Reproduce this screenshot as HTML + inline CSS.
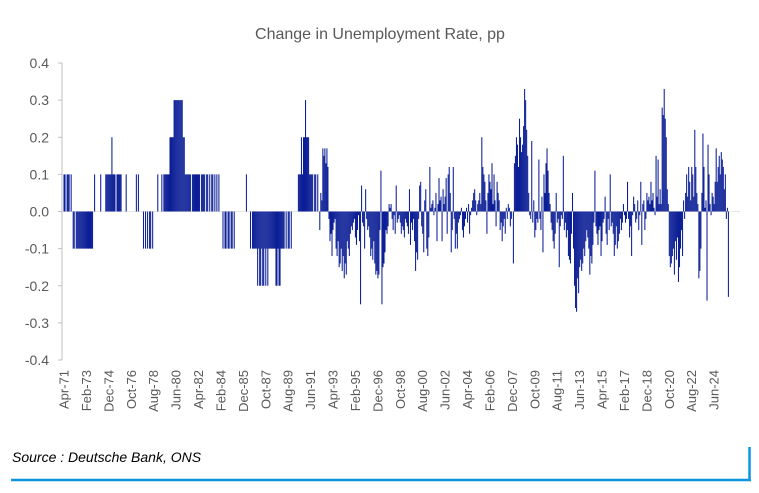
<!DOCTYPE html>
<html><head><meta charset="utf-8"><style>
body{margin:0;background:#fff;width:759px;height:488px;overflow:hidden;font-family:"Liberation Sans",sans-serif}
</style></head><body>
<svg width="759" height="488" viewBox="0 0 759 488" xmlns="http://www.w3.org/2000/svg">
<text x="380" y="39" text-anchor="middle" font-size="16" fill="#595959" font-family="Liberation Sans, sans-serif">Change in Unemployment Rate, pp</text>
<g id="yaxis"></g>
<g id="bars"></g>
<g id="xaxis"></g>
<text x="12" y="462" font-size="14" font-style="italic" fill="#000" font-family="Liberation Sans, sans-serif">Source : Deutsche Bank, ONS</text>
<line x1="11" y1="480" x2="751" y2="480" stroke="#0a96dc" stroke-width="2.5"/>
<line x1="749.5" y1="447" x2="749.5" y2="481" stroke="#0a96dc" stroke-width="2.5"/>
</svg>
<script>
const yTicks=[0.4,0.3,0.2,0.1,0.0,-0.1,-0.2,-0.3,-0.4];
const yTickLabels=["0.4","0.3","0.2","0.1","0.0","-0.1","-0.2","-0.3","-0.4"];
const xLabels=["Apr-71","Feb-73","Dec-74","Oct-76","Aug-78","Jun-80","Apr-82","Feb-84","Dec-85","Oct-87","Aug-89","Jun-91","Apr-93","Feb-95","Dec-96","Oct-98","Aug-00","Jun-02","Apr-04","Feb-06","Dec-07","Oct-09","Aug-11","Jun-13","Apr-15","Feb-17","Dec-18","Oct-20","Aug-22","Jun-24"];
const labelStep=22;
const values=[
.1,.1,0,.1,.1,.1,0,.1,0,
-.1,-.1,0,-.1,-.1,-.1,-.1,-.1,-.1,-.1,-.1,-.1,
-.1,-.1,-.1,-.1,-.1,-.1,-.1,-.1,0,.1,0,0,
0,0,0,.1,0,0,0,0,.1,.1,.1,.1,
.1,.1,.2,.1,.1,.1,0,.1,.1,.1,.1,.1,
0,0,0,0,.1,0,0,0,0,0,0,0,
0,0,.1,0,.1,0,0,0,0,-.1,0,-.1,
0,-.1,0,-.1,-.1,0,-.1,0,0,0,0,.1,
0,0,0,.1,0,.1,.1,.1,.1,.1,.1,.2,
.2,.2,.2,.3,.3,.3,.3,.3,.3,.3,.3,.3,
.2,.2,.1,.1,.1,.1,.1,.1,0,.1,.1,.1,
.1,.1,.1,.1,.1,0,.1,.1,.1,.1,0,.1,
.1,0,.1,0,.1,.1,0,.1,0,.1,0,.1,
0,0,0,-.1,0,-.1,-.1,0,-.1,-.1,0,-.1,
-.1,0,-.1,0,0,0,0,0,0,0,0,0,
0,0,.1,0,0,0,-.1,0,-.1,-.1,-.1,-.1,
-.1,-.2,-.1,-.2,-.2,-.1,-.2,-.2,-.1,-.2,-.1,-.2,
-.1,-.1,-.1,-.1,-.1,-.1,-.1,-.2,-.2,-.1,-.2,-.2,
-.1,-.1,-.1,-.1,0,-.1,0,-.1,-.1,0,-.1,0,
0,0,0,0,0,.1,.1,.1,.2,.1,.2,.2,
.3,.2,.2,.2,.1,.1,.1,.1,0,.1,.1,0,
.1,0,-.05,.05,.03,.17,.15,.17,.13,.17,.12,-.02,
-.08,-.06,-.12,-.05,-.03,-.02,-.1,-.12,-.08,-.15,-.14,-.1,
-.16,-.12,-.18,-.14,-.17,-.08,-.1,-.12,-.06,-.04,-.05,-.03,
-.02,-.07,-.09,-.05,-.01,-.08,-.25,.07,-.03,-.04,-.1,.06,
-.02,-.05,-.04,-.07,-.12,-.1,-.13,-.08,-.14,-.17,-.16,-.18,
-.17,-.05,.11,-.25,-.15,-.14,-.11,-.05,-.06,-.04,.02,.01,
.02,-.02,-.05,-.01,-.06,.07,-.03,-.02,-.01,-.03,-.06,-.04,
-.05,-.07,-.02,-.03,-.04,-.06,.06,-.09,-.03,-.05,-.02,-.08,
-.16,-.11,-.13,-.02,.07,.08,-.04,-.06,-.11,.03,.06,-.1,
-.12,-.07,.12,.01,.02,.03,-.01,.01,.05,-.08,.02,.09,
.03,.04,-.08,.06,.02,.04,.09,-.06,.1,.12,.05,-.11,
-.05,.12,-.02,-.1,-.06,-.1,-.03,-.02,-.01,.01,-.05,-.07,
-.04,-.02,.01,-.03,.02,-.06,-.01,.01,.03,.05,.06,.03,
-.01,.02,.03,.05,.02,.2,.12,.1,.08,.03,-.06,.05,
.1,.08,.06,.13,.02,.1,.03,-.04,.08,.05,.03,-.05,
-.03,-.08,-.04,-.02,-.06,.01,-.02,.02,.01,-.04,-.02,0,
-.14,.13,.15,.2,.18,.12,.25,.2,.16,.18,.23,.33,
.3,.22,.15,.05,-.01,-.02,.19,-.03,.03,-.07,-.05,-.02,
-.03,.14,-.02,-.05,.04,-.11,.1,.05,.13,.17,.11,.05,
.02,-.03,-.05,-.08,-.1,-.06,.05,-.03,-.02,-.15,-.04,-.01,
-.02,.15,-.05,-.03,-.07,-.05,-.12,-.13,-.14,-.06,.05,-.1,
-.2,-.26,-.27,-.18,-.22,-.15,-.13,-.16,-.14,-.1,-.12,-.08,
-.05,-.07,-.1,-.17,-.12,-.14,-.09,-.03,.11,-.04,-.06,-.09,
-.05,-.04,-.12,-.08,-.03,-.02,.04,-.06,-.09,-.02,-.05,.1,
-.04,-.03,-.06,-.12,-.09,-.04,-.1,-.08,-.06,-.02,-.05,-.03,
.02,-.01,-.03,-.02,.08,-.02,-.07,-.04,-.12,-.01,.04,.02,
-.03,-.02,.03,-.05,-.01,.08,-.09,.02,.03,-.05,-.02,.05,
.03,.04,.02,.08,.03,.05,.01,-.01,.15,.04,.14,.02,
.06,.02,.28,.26,.33,.25,.2,.06,.02,-.12,-.15,-.14,
-.12,-.1,-.17,-.08,-.13,-.07,-.19,-.15,-.1,-.05,-.12,.03,
-.02,.05,.1,.04,.12,.08,.03,.12,.1,.04,.22,.12,
.05,.02,-.18,-.16,-.1,.05,.21,.12,.01,.03,-.24,.18,
.1,.02,-.01,.05,.04,.02,.08,.17,.08,.12,.15,.1,
.16,.14,.12,.06,.1,-.02,.01,-.23
];
const NS="http://www.w3.org/2000/svg";
const x0=64,dx=1.019,yTop=63,yBot=360,vMax=0.4,vMin=-0.4;
function xs(i){return x0+i*dx;}
function ys(v){return yTop+(vMax-v)/(vMax-vMin)*(yBot-yTop);}
const ya=document.getElementById('yaxis');
let ln=document.createElementNS(NS,'line');


ln.setAttribute('x1',62);ln.setAttribute('x2',62);ln.setAttribute('y1',yTop);ln.setAttribute('y2',yBot);
ln.setAttribute('stroke','#bfbfbf');ya.appendChild(ln);
yTicks.forEach((v,k)=>{
 const t=document.createElementNS(NS,'line');
 
 
 t.setAttribute('x1',58);t.setAttribute('x2',62);t.setAttribute('y1',ys(v));t.setAttribute('y2',ys(v));
 t.setAttribute('stroke','#bfbfbf');ya.appendChild(t);
 const tx=document.createElementNS(NS,'text');
 
 
 tx.setAttribute('x',49);tx.setAttribute('y',ys(v)+5);tx.setAttribute('text-anchor','end');
 tx.setAttribute('font-size','14');tx.setAttribute('fill','#595959');
 tx.textContent=yTickLabels[k];ya.appendChild(tx);
});
const bg=document.getElementById('bars');
values.forEach((v,i)=>{
 if(v===0)return;
 const r=document.createElementNS(NS,'rect');
 
 
 const y=Math.min(ys(v),ys(0));
 r.setAttribute('x',xs(i)-0.5);r.setAttribute('width',1.05);
 r.setAttribute('y',y);r.setAttribute('height',Math.abs(ys(v)-ys(0)));
 r.setAttribute('fill','#0c1f96');bg.appendChild(r);
});
const z=document.createElementNS(NS,'line');


z.setAttribute('x1',62);z.setAttribute('x2',740);z.setAttribute('y1',ys(0));z.setAttribute('y2',ys(0));
z.setAttribute('stroke','#d0d0d0');z.setAttribute('stroke-width','0.6');bg.insertBefore(z,bg.firstChild);
const xa=document.getElementById('xaxis');
xLabels.forEach((lab,k)=>{
 const t=document.createElementNS(NS,'text');
 
 
 const x=xs(k*labelStep)+4.5;
 t.setAttribute('transform','translate('+x+',370) rotate(-90)');
 t.setAttribute('text-anchor','end');t.setAttribute('font-size','13');t.setAttribute('fill','#595959');
 t.textContent=lab;xa.appendChild(t);
});
</script>
</body></html>
